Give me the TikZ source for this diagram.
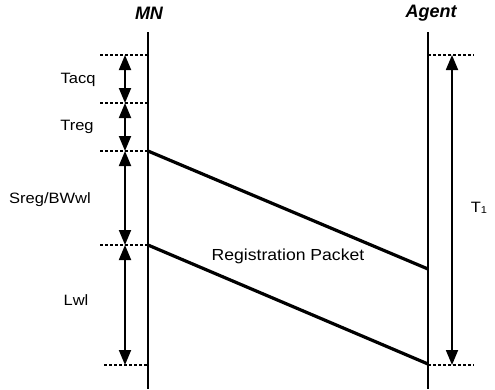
\documentclass[tikz,border=0pt]{standalone}
\usepackage{fontspec}
\setmainfont{Liberation Sans}
\newfontfamily\lblfont[FakeStretch=1.1]{Liberation Sans}
\usetikzlibrary{arrows.meta}
\begin{document}
\begin{tikzpicture}[x=1pt,y=-1pt,
  lifeline/.style={line width=1.4pt},
  packet/.style={line width=3.2pt},
  guide/.style={line width=1.3pt, dash pattern=on 3pt off 2pt},
  span/.style={line width=1.8pt,
    {Triangle[width=12pt,length=15pt]}-{Triangle[width=12pt,length=15pt]}},
  lbl/.style={font=\lblfont\fontsize{15}{17}\selectfont, inner sep=0pt},
  pkt/.style={font=\lblfont\fontsize{16}{18}\selectfont, inner sep=0pt},
  head/.style={font=\fontsize{18}{20}\selectfont\bfseries\itshape, inner sep=0pt}]
\useasboundingbox (0,0) rectangle (495,389);

% lifelines
\node[head] (mn) at (149,13) {MN};
\node[head] (agent) at (431,13) {Agent};
\coordinate (mnTop) at (148,32);
\coordinate (mnBot) at (148,389);
\coordinate (agTop) at (428,32);
\coordinate (agBot) at (428,389);
\draw[lifeline] (mnTop) -- (mnBot);
\draw[lifeline] (agTop) -- (agBot);

% time marks at the mobile node
\coordinate (m1) at (100,55);
\coordinate (m2) at (100,103);
\coordinate (m3) at (100,151);
\coordinate (m4) at (100,245);
\coordinate (m5) at (104,365);
\foreach \m in {m1,m2,m3,m4,m5}
  \draw[guide] (\m) -- (\m -| mnTop);

% time marks at the agent
\coordinate (g1) at (474,55);
\coordinate (g2) at (474,365);
\draw[guide] (g1 -| agTop) -- (g1);
\draw[guide] (g2 -| agTop) -- (g2);

% interval arrows
\coordinate (a1) at (125,55);
\coordinate (a2) at (125,103);
\coordinate (a3) at (125,151);
\coordinate (a4) at (125,245);
\coordinate (a5) at (125,365);
\draw[span] (a1) -- (a2);
\draw[span] (a2) -- (a3);
\draw[span] (a3) -- (a4);
\draw[span] (a4) -- (a5);
\coordinate (t1a) at (452,55);
\coordinate (t1b) at (452,365);
\draw[span] (t1a) -- (t1b);

% interval labels
\node[lbl] (tacq) at (78,80) {Tacq};
\node[lbl] (treg) at (77,127) {Treg};
\node[lbl] (sreg) at (50,200) {Sreg/BWwl};
\node[lbl] (lwl) at (76,300) {Lwl};
\node[lbl] (t1) at (479,208) {T\raisebox{-1.5pt}{\fontsize{10}{10}\selectfont 1}};

% registration packet transmission
\coordinate (p1) at (148,151);
\coordinate (q1) at (428,269);
\coordinate (p2) at (148,245);
\coordinate (q2) at (428,364);
\draw[packet] (p1) -- (q1);
\draw[packet] (p2) -- (q2);
\node[pkt] (reg) at (288,256) {Registration Packet};
\end{tikzpicture}
\end{document}
